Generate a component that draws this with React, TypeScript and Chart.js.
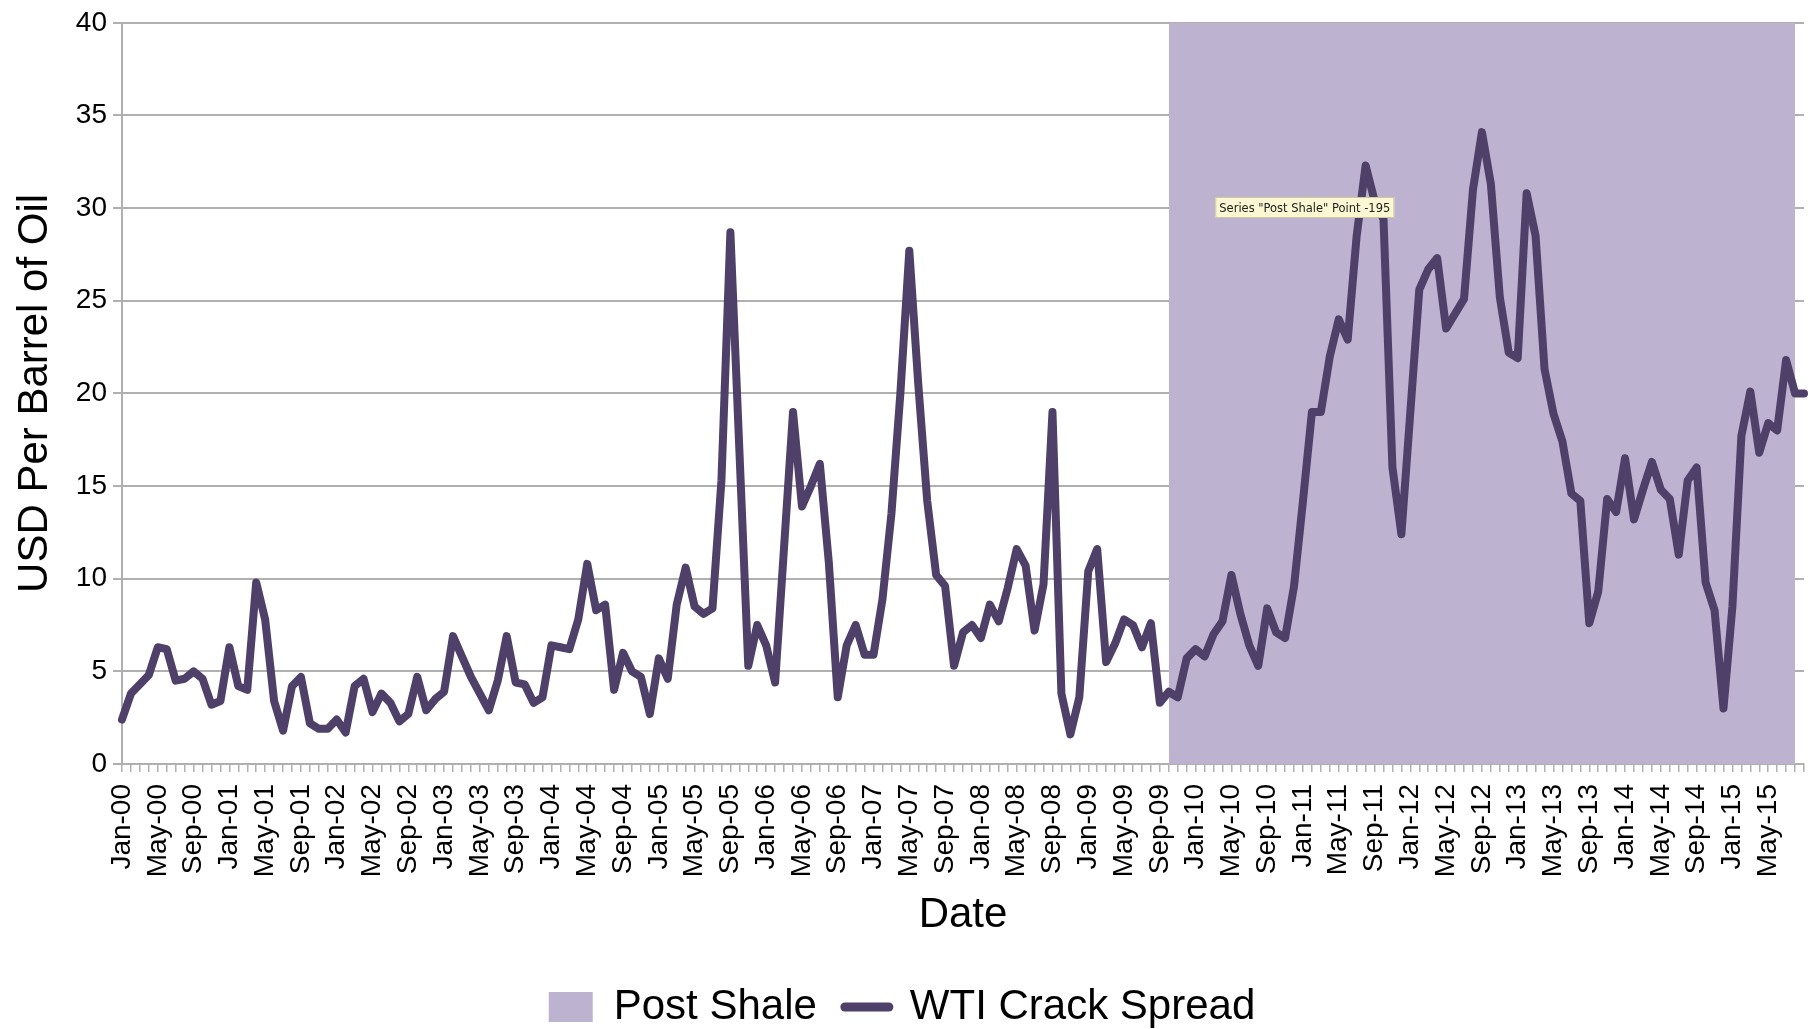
import React, { useEffect, useRef } from "react";
import { Chart, registerables } from "chart.js";

Chart.register(...registerables);

// ---------- data ----------
const MONTH_NAMES = ["Jan", "Feb", "Mar", "Apr", "May", "Jun", "Jul", "Aug", "Sep", "Oct", "Nov", "Dec"];
const START_YEAR = 2000;
const MONTH_COUNT = 189; // Jan-00 .. Sep-15

const categories: string[] = [];
for (let i = 0; i < MONTH_COUNT; i++) {
  const yr = (START_YEAR + Math.floor(i / 12)) % 100;
  categories.push(`${MONTH_NAMES[i % 12]}-${String(yr).padStart(2, "0")}`);
}

// WTI crack spread, USD per barrel, monthly Jan-00 .. Sep-15
const wtiCrackSpread: number[] = [
  // 2000
  2.4, 3.8, 4.3, 4.8, 6.3, 6.2, 4.5, 4.6, 5.0, 4.6, 3.2, 3.4,
  // 2001
  6.3, 4.2, 4.0, 9.8, 7.8, 3.4, 1.8, 4.2, 4.7, 2.2, 1.9, 1.9,
  // 2002
  2.4, 1.7, 4.2, 4.6, 2.8, 3.8, 3.3, 2.3, 2.7, 4.7, 2.9, 3.5,
  // 2003
  3.9, 6.9, 5.8, 4.7, 3.8, 2.9, 4.5, 6.9, 4.4, 4.3, 3.3, 3.6,
  // 2004
  6.4, 6.3, 6.2, 7.8, 10.8, 8.3, 8.6, 4.0, 6.0, 5.0, 4.7, 2.7,
  // 2005
  5.7, 4.6, 8.6, 10.6, 8.5, 8.1, 8.4, 15.3, 28.7, 17.0, 5.3, 7.5,
  // 2006
  6.4, 4.4, 11.7, 19.0, 13.9, 15.0, 16.2, 10.9, 3.6, 6.4, 7.5, 5.9,
  // 2007
  5.9, 8.9, 13.5, 20.0, 27.7, 20.5, 14.2, 10.2, 9.6, 5.3, 7.1, 7.5,
  // 2008
  6.8, 8.6, 7.7, 9.5, 11.6, 10.7, 7.2, 9.7, 19.0, 3.8, 1.6, 3.6,
  // 2009
  10.4, 11.6, 5.5, 6.5, 7.8, 7.5, 6.3, 7.6, 3.3, 3.9, 3.6, 5.7,
  // 2010
  6.2, 5.8, 7.0, 7.7, 10.2, 8.1, 6.4, 5.3, 8.4, 7.1, 6.8, 9.6,
  // 2011
  14.2, 19.0, 19.0, 22.0, 24.0, 22.9, 28.5, 32.3, 30.4, 29.4, 16.0, 12.4,
  // 2012
  19.0, 25.6, 26.7, 27.3, 23.5, 24.3, 25.1, 31.0, 34.1, 31.3, 25.2, 22.2,
  // 2013
  21.9, 30.8, 28.5, 21.3, 18.9, 17.4, 14.6, 14.2, 7.6, 9.3, 14.3, 13.6,
  // 2014
  16.5, 13.2, 14.8, 16.3, 14.8, 14.3, 11.3, 15.3, 16.0, 9.8, 8.3, 3.0,
  // 2015
  8.5, 17.7, 20.1, 16.8, 18.4, 18.0, 21.8, 20.0, 20.0,
];

// Post-shale shaded period
const postShaleStart = "Oct-09";
const postShaleEnd = "Aug-15";
const postShaleLevel = 40;
const postShaleStartIdx = categories.indexOf(postShaleStart);
const postShaleEndIdx = categories.indexOf(postShaleEnd);
const postShale: (number | null)[] = categories.map((_, i) =>
  i >= postShaleStartIdx && i <= postShaleEndIdx ? postShaleLevel : null
);

const Y_MIN = 0;
const Y_MAX = 40;
const Y_STEP = 5;
const LABEL_EVERY = 4;
const LAST_LABELLED = "May-15";
const lastLabelledIdx = categories.indexOf(LAST_LABELLED);

const hoverNote = 'Series "Post Shale" Point -195';
const hoverNoteAnchor = { x: 122.2, y: 30.6 };

// ---------- style ----------
const FONT = '"Liberation Sans", Arial, Helvetica, sans-serif';
const LINE_COLOR = "#4e4068";
const SHADE_COLOR = "#bdb2cf";
const GRID_COLOR = "#b0b0b0";

const notePlugin = {
  id: "hoverNote",
  afterDraw(chart: any) {
    const { ctx, scales } = chart;
    const left = scales.x.getPixelForValue(hoverNoteAnchor.x);
    const top = scales.y.getPixelForValue(hoverNoteAnchor.y);
    const w = 179;
    const h = 21;
    ctx.save();
    ctx.fillStyle = "#fbf7d3";
    ctx.strokeStyle = "#cfc8a0";
    ctx.lineWidth = 1;
    ctx.fillRect(left, top, w, h);
    ctx.strokeRect(left + 0.5, top + 0.5, w - 1, h - 1);
    ctx.fillStyle = "#222";
    ctx.font = '13px "DejaVu Sans", sans-serif';
    ctx.textBaseline = "middle";
    ctx.textAlign = "left";
    ctx.fillText(hoverNote, left + 4, top + h / 2 + 1, w - 8);
    ctx.restore();
  },
};

export default function App() {
  const canvasRef = useRef<HTMLCanvasElement | null>(null);

  useEffect(() => {
    if (!canvasRef.current) return;
    const chart = new Chart(canvasRef.current, {
      type: "line",
      data: {
        labels: categories,
        datasets: [
          {
            label: "WTI Crack Spread",
            data: wtiCrackSpread,
            borderColor: LINE_COLOR,
            backgroundColor: LINE_COLOR,
            borderWidth: 8,
            borderJoinStyle: "round",
            borderCapStyle: "round",
            pointRadius: 0,
            pointHoverRadius: 0,
            tension: 0,
            fill: false,
          },
          {
            label: "Post Shale",
            data: postShale,
            borderColor: "rgba(0,0,0,0)",
            backgroundColor: SHADE_COLOR,
            borderWidth: 0,
            pointRadius: 0,
            pointHoverRadius: 0,
            tension: 0,
            fill: "origin",
            spanGaps: false,
          },
        ],
      },
      options: {
        responsive: false,
        animation: false,
        devicePixelRatio: 1,
        layout: { padding: { top: 5, right: 4, bottom: -9, left: 0 } },
        plugins: {
          tooltip: { enabled: false },
          legend: {
            position: "bottom",
            labels: {
              usePointStyle: true,
              pointStyleWidth: 44,
              boxHeight: 30,
              padding: 28,
              color: "#000",
              font: { family: FONT, size: 42 },
              generateLabels: () => [
                {
                  text: "Post Shale",
                  fillStyle: SHADE_COLOR,
                  strokeStyle: SHADE_COLOR,
                  lineWidth: 0,
                  pointStyle: "rect",
                  hidden: false,
                  datasetIndex: 1,
                },
                {
                  text: "WTI Crack Spread",
                  fillStyle: LINE_COLOR,
                  strokeStyle: LINE_COLOR,
                  lineWidth: 9,
                  lineCap: "round",
                  pointStyle: "line",
                  hidden: false,
                  datasetIndex: 0,
                },
              ],
            },
          },
        },
        scales: {
          x: {
            type: "category",
            offset: false,
            grid: {
              display: true,
              drawOnChartArea: false,
              drawTicks: true,
              tickLength: 8,
              color: GRID_COLOR,
              lineWidth: 1.5,
            },
            border: { display: true, color: GRID_COLOR, width: 2 },
            ticks: {
              autoSkip: false,
              maxRotation: 90,
              minRotation: 90,
              padding: 12,
              color: "#000",
              font: { family: FONT, size: 28 },
              callback: (_v: any, i: number) =>
                i % LABEL_EVERY === 0 && i <= lastLabelledIdx ? categories[i] : "",
            },
            title: {
              display: true,
              text: "Date",
              color: "#000",
              font: { family: FONT, size: 42 },
              padding: { top: 0, bottom: 17 },
            },
            afterFit: (s: any) => {
              s.height = 194;
              s.paddingLeft = 0;
              s.paddingRight = 0;
            },
          },
          y: {
            min: Y_MIN,
            max: Y_MAX,
            ticks: {
              stepSize: Y_STEP,
              padding: 6,
              color: "#000",
              font: { family: FONT, size: 28 },
            },
            grid: { color: GRID_COLOR, lineWidth: 2, drawTicks: true, tickLength: 9 },
            border: { display: true, color: GRID_COLOR, width: 2 },
            title: {
              display: true,
              text: "USD Per Barrel of Oil",
              color: "#000",
              font: { family: FONT, size: 42 },
              padding: { top: 10, bottom: 0 },
            },
            afterFit: (s: any) => {
              s.width = 122;
            },
          },
        },
      },
      plugins: [notePlugin],
    } as any);
    return () => chart.destroy();
  }, []);

  return (
    <div style={{ position: "absolute", left: 0, top: 0, width: 1808, height: 1029, background: "#fff" }}>
      <canvas ref={canvasRef} width={1808} height={1029} style={{ display: "block" }} />
    </div>
  );
}
